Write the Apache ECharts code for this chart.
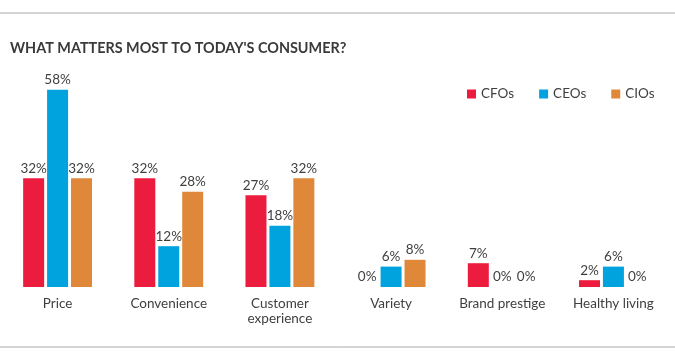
<!DOCTYPE html>
<html><head><meta charset="utf-8">
<script src="https://cdn.jsdelivr.net/npm/echarts@6/dist/echarts.min.js"></script>
<style>html,body{margin:0;padding:0;background:#fff}#c{width:675px;height:361px}</style>
</head><body><div id="c"></div>
<script>
const categories = ['Price', 'Convenience', 'Customer\nexperience', 'Variety', 'Brand prestige', 'Healthy living'];
const cfos = [32, 32, 27, 0, 7, 2];
const ceos = [58, 12, 18, 6, 0, 6];
const cios = [32, 28, 32, 8, 0, 0];
const seriesNames = ['CFOs', 'CEOs', 'CIOs'];
const colors = ['#EC1C3E', '#00A3DD', '#E0883A'];

const FONT = 'Lato';
const chart = echarts.init(document.getElementById('c'), null, {renderer: 'canvas'});
const mk = (name, data, color) => ({
  name, type: 'bar', data, barWidth: 21, barGap: '14%',
  itemStyle: {color},
  label: {show: true, position: 'top', distance: 3, formatter: '{c}%', color: '#3f3f3f', fontSize: 13.5, fontFamily: FONT},
  emphasis: {disabled: true}
});
chart.setOption({
  animation: false,
  textStyle: {fontFamily: FONT},
  title: {text: "WHAT MATTERS MOST TO TODAY'S CONSUMER?", left: 5, top: 36,
    textStyle: {fontFamily: FONT, fontSize: 14.4, fontWeight: 'bold', color: '#3a3a3a'}},
  legend: {data: seriesNames, left: 462, top: 82, itemWidth: 9, itemHeight: 9, itemGap: 25,
    icon: 'rect', textStyle: {fontFamily: FONT, fontSize: 13.5, color: '#3f3f3f'}},
  grid: {left: 2, right: 6, top: 83, bottom: 74, containLabel: false},
  xAxis: {type: 'category', data: categories,
    axisLine: {show: false}, axisTick: {show: false},
    axisLabel: {margin: 9, fontFamily: FONT, fontSize: 13.5, color: '#3f3f3f', lineHeight: 15, interval: 0}},
  yAxis: {type: 'value', min: 0, max: 60, show: false, splitLine: {show: false}},
  graphic: [
    {type: 'line', shape: {x1: 0, y1: 13, x2: 675, y2: 13}, style: {stroke: '#a8a8a8', lineWidth: 1}},
    {type: 'line', shape: {x1: 0, y1: 347, x2: 675, y2: 347}, style: {stroke: '#a8a8a8', lineWidth: 1}}
  ],
  series: [mk(seriesNames[0], cfos, colors[0]), mk(seriesNames[1], ceos, colors[1]), mk(seriesNames[2], cios, colors[2])]
});
</script></body></html>
